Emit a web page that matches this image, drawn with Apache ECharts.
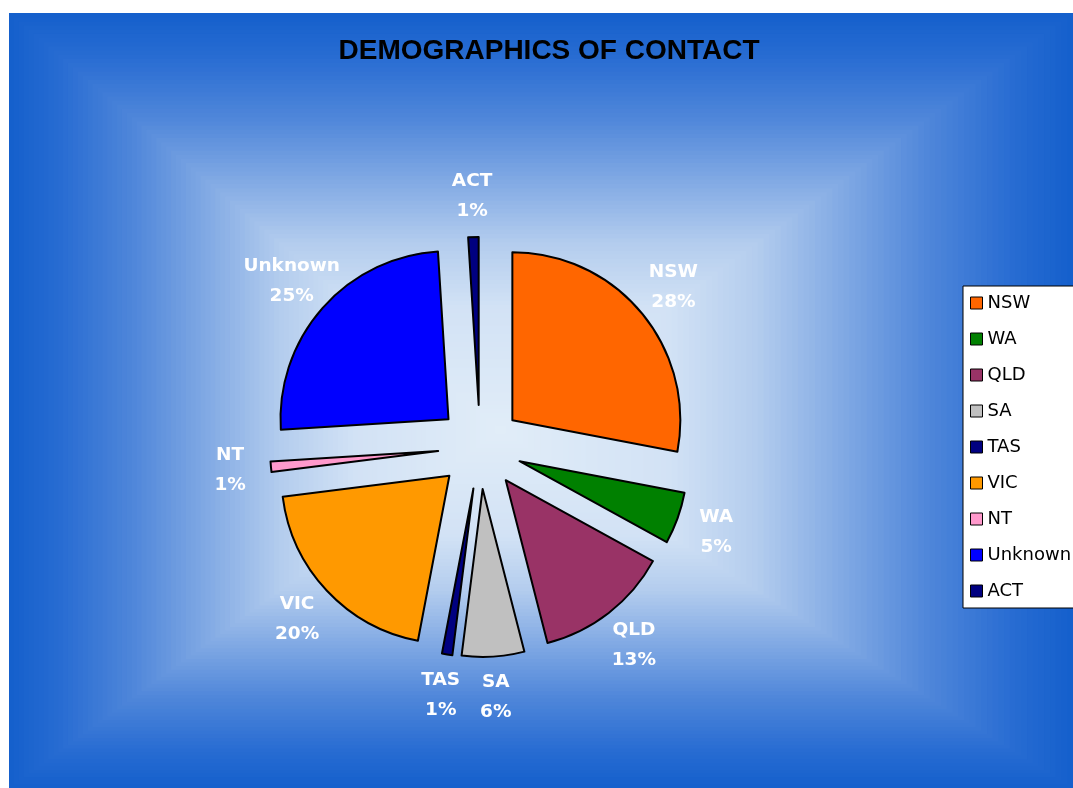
<!DOCTYPE html>
<html>
<head>
<meta charset="utf-8">
<style>
  html, body { margin: 0; padding: 0; background: #ffffff; }
  #chart { width: 1073px; height: 788px; }
</style>
<script src="https://cdn.jsdelivr.net/npm/echarts@6/dist/echarts.min.js"></script>
</head>
<body>
<div id="chart"></div>
<script>
// Contact counts by state / territory, in percent of all contacts
const categories = ['NSW', 'WA', 'QLD', 'SA', 'TAS', 'VIC', 'NT', 'Unknown', 'ACT'];
const shares = [28, 5, 13, 6, 1, 20, 1, 25, 1];
const sliceColors = ['#ff6600', '#008000', '#993366', '#c0c0c0', '#000080',
                     '#ff9900', '#ff99cc', '#0000ff', '#000080'];

const chart = echarts.init(document.getElementById('chart'), null, { renderer: 'canvas' });

// Chart-area fill: a rectangular "from centre" gradient built from nested bands
const area = { left: 9, top: 13, right: 1073, bottom: 788 };
const focus = { x: 500, y: 430 };
const bandStops = [
  [0.00, [21, 96, 204]],
  [0.10, [40, 108, 210]],
  [0.25, [80, 135, 218]],
  [0.40, [130, 170, 228]],
  [0.55, [180, 205, 238]],
  [0.70, [210, 226, 245]],
  [1.00, [225, 237, 248]]
];
function bandColor(t) {
  for (let i = 1; i < bandStops.length; i++) {
    if (t <= bandStops[i][0]) {
      const a = bandStops[i - 1], b = bandStops[i];
      const k = (t - a[0]) / (b[0] - a[0]);
      const c = a[1].map((v, j) => Math.round(v + (b[1][j] - v) * k));
      return 'rgb(' + c.join(',') + ')';
    }
  }
  return 'rgb(' + bandStops[bandStops.length - 1][1].join(',') + ')';
}
const bands = [];
const steps = 100;
const extL = focus.x - area.left, extR = area.right - focus.x;
const extT = focus.y - area.top, extB = area.bottom - focus.y;
for (let i = 0; i < steps; i++) {
  const t = i / steps, s = 1 - t;
  bands.push({
    type: 'rect',
    silent: true,
    z: -200 + i,
    shape: {
      x: focus.x - extL * s,
      y: focus.y - extT * s,
      width: (extL + extR) * s,
      height: (extT + extB) * s
    },
    style: { fill: bandColor(t) }
  });
}

const pieData = categories.map((name, i) => ({
  name: name,
  value: shares[i],
  selected: true,
  itemStyle: { color: sliceColors[i] }
}));

const pieCenter = [480, 447];

chart.setOption({
  animation: false,
  graphic: { elements: bands },
  title: {
    text: 'DEMOGRAPHICS OF CONTACT',
    left: 549,
    top: 37,
    textAlign: 'center',
    padding: 0,
    textStyle: {
      fontFamily: 'Liberation Sans, Arial, sans-serif',
      fontWeight: 'bold',
      fontSize: 28,
      color: '#000000'
    }
  },
  legend: {
    data: categories,
    orient: 'vertical',
    left: 963,
    top: 286,
    padding: [7, 30, 7, 7],
    icon: 'rect',
    itemWidth: 12,
    itemHeight: 12,
    itemGap: 16,
    backgroundColor: '#ffffff',
    borderColor: '#000000',
    borderWidth: 1,
    selectedMode: false,
    itemStyle: { borderColor: '#000000', borderWidth: 1 },
    textStyle: {
      fontFamily: 'DejaVu Sans, sans-serif',
      fontSize: 18,
      lineHeight: 20,
      color: '#000000'
    }
  },
  series: [
    {
      name: 'Contacts',
      type: 'pie',
      center: pieCenter,
      radius: 168,
      startAngle: 90,
      clockwise: true,
      selectedMode: 'multiple',
      selectedOffset: 42,
      silent: true,
      avoidLabelOverlap: false,
      label: { show: false },
      labelLine: { show: false },
      itemStyle: { borderColor: '#000000', borderWidth: 2 },
      emphasis: { disabled: true, scale: false },
      select: { itemStyle: { borderColor: '#000000', borderWidth: 2 } },
      data: pieData
    },
    {
      // transparent ring used only to place the name / percent labels
      name: 'Labels',
      type: 'pie',
      center: pieCenter,
      radius: [230, 266],
      startAngle: 90,
      clockwise: true,
      silent: true,
      avoidLabelOverlap: false,
      itemStyle: { color: 'rgba(0,0,0,0)', borderWidth: 0 },
      emphasis: { disabled: true, scale: false },
      labelLine: { show: false },
      label: {
        show: true,
        position: 'inside',
        formatter: '{b}\n{d}%',
        color: '#ffffff',
        fontFamily: 'DejaVu Sans, sans-serif',
        fontWeight: 'bold',
        fontSize: 18.5,
        lineHeight: 30,
        align: 'center'
      },
      data: categories.map((name, i) => ({ name: name, value: shares[i] }))
    }
  ]
});
</script>
</body>
</html>
